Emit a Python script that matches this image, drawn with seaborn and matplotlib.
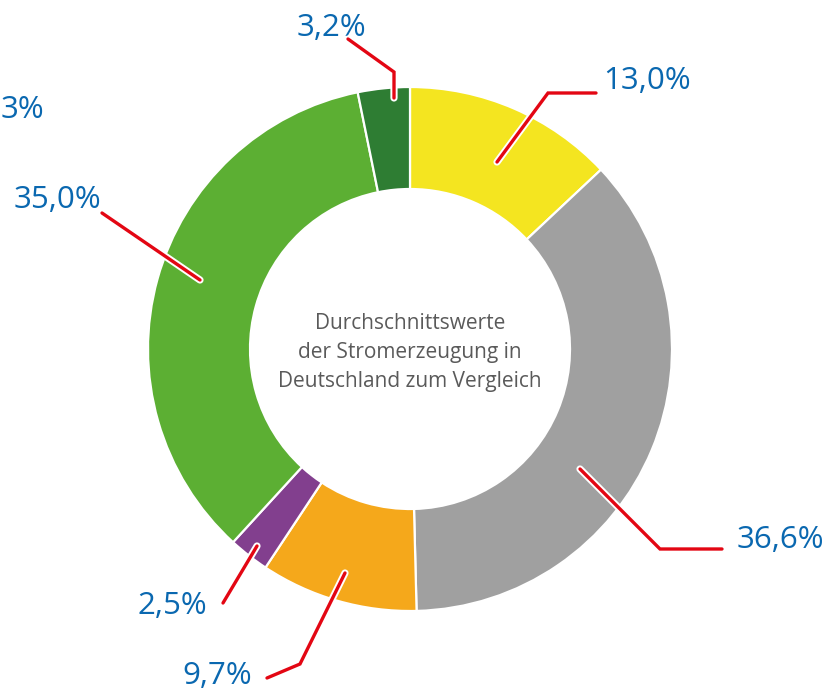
import matplotlib
matplotlib.use('Agg')
import matplotlib.pyplot as plt
import matplotlib.patheffects as pe
import seaborn as sns

# Data (clockwise from 12 o'clock)
shares = [13.0, 36.6, 9.7, 2.5, 35.0, 3.2]
labels = ['13,0%', '36,6%', '9,7%', '2,5%', '35,0%', '3,2%']
colors = ['#F4E520', '#A0A0A0', '#F5A81B', '#823F8E', '#5CAF33', '#2E7D33']
center_text = 'Durchschnittswerte\nder Stromerzeugung in\nDeutschland zum Vergleich'
cut_label = '3%'

# Layout in pixel coordinates (y downward)
W, H = 840, 694
CX, CY, R_OUT, R_IN = 410, 349, 262, 160
# leader line points: from text side to the anchor inside the ring
leaders = [
    [(596, 93), (548, 93), (497, 162)],
    [(722, 549), (660, 549), (580, 469)],
    [(267, 678), (300, 664), (345, 573)],
    [(223, 603), (257, 546)],
    [(102, 213), (200, 280)],
    [(348, 39), (394, 72), (394, 98)],
]
text_pos = [(647, 81), (780, 540), (217, 676), (172, 606), (57, 200), (331, 28)]

sns.set_theme(style='white')
plt.rcParams['font.family'] = ['Open Sans', 'DejaVu Sans']

fig = plt.figure(figsize=(W / 100, H / 100), dpi=100)
ax = fig.add_axes([0, 0, 1, 1])

# y axis is inverted, so counterclock in data = clockwise on screen
ax.pie(shares, colors=colors, startangle=-90, counterclock=True,
       center=(CX, CY), radius=R_OUT, frame=True,
       wedgeprops=dict(width=R_OUT - R_IN, edgecolor='white', linewidth=1.6))
ax.set_xlim(0, W)
ax.set_ylim(H, 0)
ax.set_aspect('equal')
ax.axis('off')

ax.text(CX, CY + 3, center_text, ha='center', va='center', fontsize=15,
        color='#5A5A5A', linespacing=1.5)

for pts, lab, (tx, ty) in zip(leaders, labels, text_pos):
    xs = [p[0] for p in pts]
    ys = [p[1] for p in pts]
    ax.plot(xs, ys, color='#E30613', lw=2.4, solid_capstyle='round',
            solid_joinstyle='miter', zorder=5,
            path_effects=[pe.Stroke(linewidth=5.2, foreground='white', capstyle='round'),
                          pe.Normal()])
    ax.text(tx, ty, lab, ha='center', va='center', fontsize=22.5, color='#0A68B0')

ax.text(1, 110, cut_label, ha='left', va='center', fontsize=22.5, color='#0A68B0')

fig.savefig('out.png', dpi=100)
